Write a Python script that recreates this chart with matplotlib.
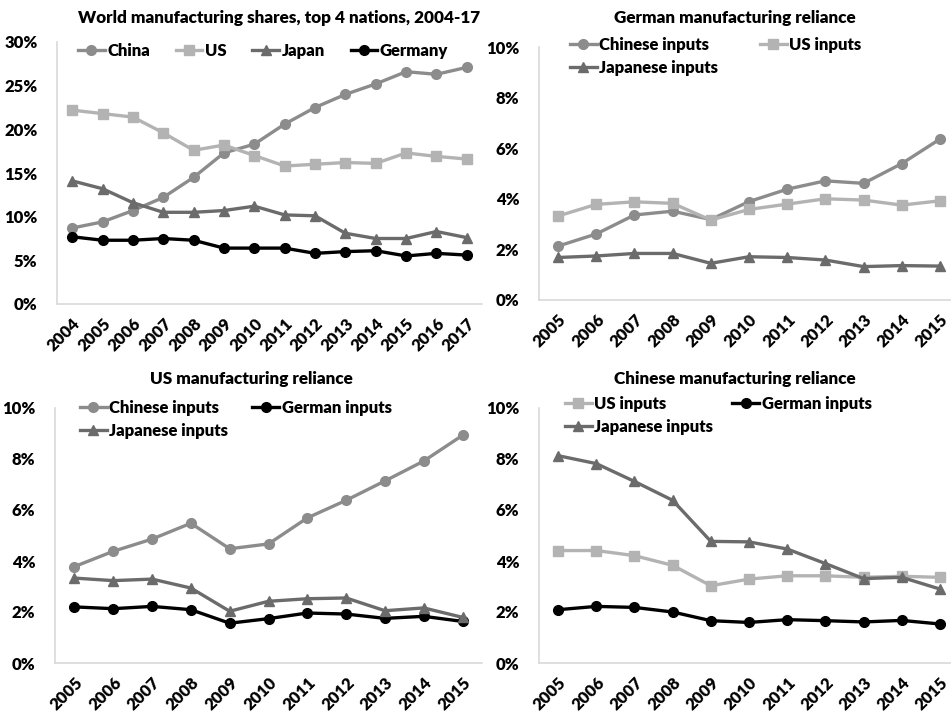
import numpy as np
import matplotlib.pyplot as plt
from matplotlib.ticker import FuncFormatter

plt.rcParams['font.family'] = ['Lato', 'DejaVu Sans']
plt.rcParams['font.weight'] = 'heavy'

W, H = 951, 713
FW = 'heavy'

# world shares 2004-17 (%)
years_world = [str(y) for y in range(2004, 2018)]
world_china = [8.7, 9.4, 10.7, 12.2, 14.5, 17.3, 18.3, 20.6, 22.5, 24.0, 25.2, 26.6, 26.3, 27.1]
world_us = [22.2, 21.8, 21.4, 19.6, 17.6, 18.2, 17.0, 15.8, 16.0, 16.2, 16.1, 17.3, 16.9, 16.6]
world_japan = [14.1, 13.2, 11.6, 10.5, 10.5, 10.7, 11.2, 10.2, 10.1, 8.1, 7.5, 7.5, 8.3, 7.6]
world_germany = [7.7, 7.3, 7.3, 7.5, 7.3, 6.4, 6.4, 6.4, 5.8, 6.0, 6.1, 5.5, 5.8, 5.6]

years = [str(y) for y in range(2005, 2016)]

# German reliance (%)
de_chinese = [2.13, 2.61, 3.36, 3.51, 3.18, 3.89, 4.38, 4.71, 4.61, 5.39, 6.36]
de_us = [3.32, 3.78, 3.88, 3.82, 3.16, 3.58, 3.79, 4.00, 3.95, 3.75, 3.92]
de_japanese = [1.68, 1.74, 1.84, 1.84, 1.45, 1.71, 1.68, 1.58, 1.32, 1.36, 1.34]

# US reliance (%)
us_chinese = [3.78, 4.38, 4.86, 5.48, 4.48, 4.67, 5.69, 6.38, 7.14, 7.92, 8.93]
us_german = [2.20, 2.13, 2.22, 2.09, 1.56, 1.74, 1.96, 1.92, 1.75, 1.83, 1.63]
us_japanese = [3.33, 3.23, 3.29, 2.94, 2.03, 2.42, 2.52, 2.55, 2.05, 2.16, 1.79]

# Chinese reliance (%)
cn_us = [4.41, 4.41, 4.21, 3.83, 3.03, 3.29, 3.42, 3.42, 3.36, 3.40, 3.36]
cn_german = [2.09, 2.22, 2.18, 2.00, 1.66, 1.59, 1.70, 1.66, 1.61, 1.67, 1.53]
cn_japanese = [8.13, 7.82, 7.12, 6.38, 4.77, 4.75, 4.47, 3.90, 3.31, 3.36, 2.90]

c_china = '#8c8c8c'
c_us = '#b3b3b3'
c_japan = '#6b6b6b'
c_germany = '#000000'

sty = {
    'china': dict(color=c_china, marker='o', markersize=7),
    'us': dict(color=c_us, marker='s', markersize=7),
    'japan': dict(color=c_japan, marker='^', markersize=7.5),
    'germany': dict(color=c_germany, marker='o', markersize=7),
}

fig = plt.figure(figsize=(W / 100, H / 100), dpi=100)


def make_axes(left, right, top, bottom):
    return fig.add_axes([left / W, 1 - bottom / H, (right - left) / W, (bottom - top) / H])


def style_axes(ax, labels, ymax, ystep):
    ax.set_xlim(-0.5, len(labels) - 0.5)
    ax.set_ylim(0, ymax)
    ax.set_yticks(np.arange(0, ymax + 0.01, ystep))
    ax.yaxis.set_major_formatter(FuncFormatter(lambda v, p: f'{v:.0f}%'))
    ax.set_xticks(range(len(labels)))
    ax.set_xticklabels(labels, rotation=45, ha='right', rotation_mode='anchor')
    for s in ['top', 'right']:
        ax.spines[s].set_visible(False)
    for s in ['left', 'bottom']:
        ax.spines[s].set_color('#d9d9d9')
        ax.spines[s].set_linewidth(1.2)
    ax.tick_params(length=0, labelsize=12)
    ax.tick_params(axis='y', pad=14)
    ax.tick_params(axis='x', pad=8)
    for lab in ax.get_xticklabels() + ax.get_yticklabels():
        lab.set_fontweight(FW)


def draw(ax, vals, key, label):
    return ax.plot(range(len(vals)), vals, label=label, linewidth=2.4, **sty[key])[0]


def add_legend(ax, handles, ncol, x, y, colsp):
    ax.legend(handles=handles, ncol=ncol, loc='upper left', bbox_to_anchor=(x, y),
              frameon=False, handlelength=1.6, handletextpad=0.15, columnspacing=colsp,
              labelspacing=0.4, borderaxespad=0, borderpad=0,
              prop={'weight': FW, 'size': 12})


# top-left: world shares
ax1 = make_axes(57, 482, 42, 304)
h1 = [draw(ax1, world_china, 'china', 'China'),
      draw(ax1, world_us, 'us', 'US'),
      draw(ax1, world_japan, 'japan', 'Japan'),
      draw(ax1, world_germany, 'germany', 'Germany')]
style_axes(ax1, years_world, 30, 5)
add_legend(ax1, h1, 4, 21 / 425, 1 - 1 / 262, 1.55)

# top-right: Germany
ax2 = make_axes(539, 959, 47, 300)
a = draw(ax2, de_chinese, 'china', 'Chinese inputs')
b = draw(ax2, de_us, 'us', 'US inputs')
c = draw(ax2, de_japanese, 'japan', 'Japanese inputs')
style_axes(ax2, years, 10, 2)
add_legend(ax2, [a, c, b], 2, 31 / 420, 1 + 10 / 253, 2.5)

# bottom-left: US
ax3 = make_axes(55, 482, 408, 663)
a = draw(ax3, us_chinese, 'china', 'Chinese inputs')
b = draw(ax3, us_german, 'germany', 'German inputs')
c = draw(ax3, us_japanese, 'japan', 'Japanese inputs')
style_axes(ax3, years, 10, 2)
add_legend(ax3, [a, c, b], 2, 25 / 427, 1 + 8 / 255, 1.45)

# bottom-right: China
ax4 = make_axes(539, 959, 408, 663)
a = draw(ax4, cn_us, 'us', 'US inputs')
b = draw(ax4, cn_german, 'germany', 'German inputs')
c = draw(ax4, cn_japanese, 'japan', 'Japanese inputs')
style_axes(ax4, years, 10, 2)
add_legend(ax4, [a, c, b], 2, 26 / 420, 1 + 12 / 255, 1.15)

# panel titles
titles = [
    ('World manufacturing shares, top 4 nations, 2004-17', 279, 18),
    ('German manufacturing reliance', 735, 18),
    ('US manufacturing reliance', 251, 379),
    ('Chinese manufacturing reliance', 735, 379),
]
for txt, x, y in titles:
    fig.text(x / W, 1 - y / H, txt, ha='center', va='center', fontsize=12.3, fontweight=FW)

fig.savefig('out.png', dpi=100)
